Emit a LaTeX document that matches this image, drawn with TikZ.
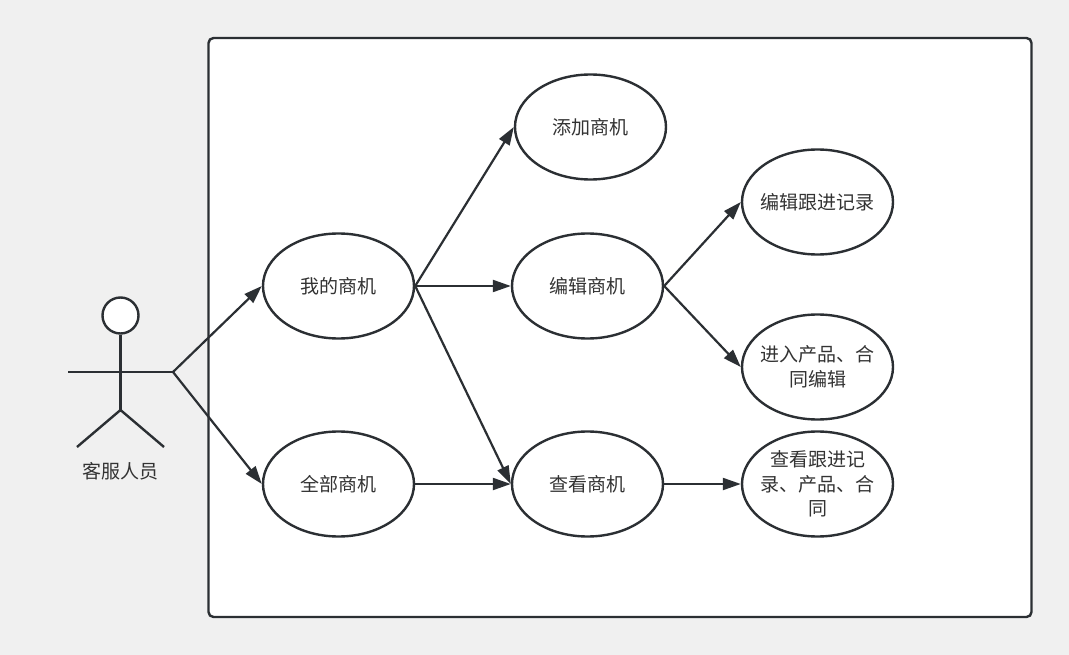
\documentclass[tikz,border=0pt]{standalone}
\usepackage{fontspec}
\newfontfamily\cjk{Noto Sans CJK SC}
\usetikzlibrary{arrows.meta,shapes.geometric}
\definecolor{bggray}{HTML}{F0F0F0}
\definecolor{ink}{HTML}{2B2F33}
\definecolor{txt}{HTML}{333333}
\begin{document}
\begin{tikzpicture}[x=1pt,y=-1pt,
  usecase/.style={draw=ink,line width=2.4pt,fill=white,ellipse,minimum width=151pt,minimum height=105pt,inner sep=0pt,
    label={[font=\cjk\fontsize{19}{24.5}\selectfont,text=txt,align=center,inner sep=0pt]center:#1}},
  conn/.style={draw=ink,line width=2.2pt,-{Triangle[length=18pt,width=12pt]}},
  stick/.style={draw=ink,line width=2.4pt}]
\useasboundingbox (0,0) rectangle (1069,655);
\fill[bggray] (0,0) rectangle (1069,655);
\draw[ink,line width=2.4pt,fill=white,rounded corners=5pt] (208.5,38) rectangle (1031.5,617);
% actor
\node[stick,circle,minimum size=36pt,inner sep=0pt,fill=white] (head) at (120.5,315.5) {};
\coordinate (hip) at (120.5,410);
\coordinate (larm) at (68,372);
\coordinate (rarm) at (173,372);
\coordinate (lfoot) at (77,447);
\coordinate (rfoot) at (164,447);
\draw[stick] (head.south) -- (hip);
\draw[stick] (larm) -- (rarm);
\draw[stick] (lfoot) -- (hip) -- (rfoot);
\node[font=\cjk\fontsize{19}{24.5}\selectfont,text=txt] (actor) at (120.5,471) {客服人员};
% use cases
\node[usecase={我的商机}] (my) at (338.5,286) {};
\node[usecase={全部商机}] (all) at (338.5,484) {};
\node[usecase={添加商机}] (add) at (590.5,127) {};
\node[usecase={编辑商机}] (edit) at (587.5,286) {};
\node[usecase={查看商机}] (view) at (587.5,484) {};
\node[usecase={编辑跟进记录}] (editrec) at (817.5,202) {};
\node[usecase={进入产品、合\\同编辑}] (enter) at (817.5,367) {};
\node[usecase={查看跟进记\\录、产品、合\\同}] (viewrec) at (817.5,484) {};
% connectors
\draw[conn] (rarm) -- (my.west);
\draw[conn] (rarm) -- (all.west);
\draw[conn] (my.east) -- (add.west);
\draw[conn] (my.east) -- (edit.west);
\draw[conn] (my.east) -- (view.west);
\draw[conn] (all.east) -- (view.west);
\draw[conn] (edit.east) -- (editrec.west);
\draw[conn] (edit.east) -- (enter.west);
\draw[conn] (view.east) -- (viewrec.west);
\end{tikzpicture}
\end{document}
